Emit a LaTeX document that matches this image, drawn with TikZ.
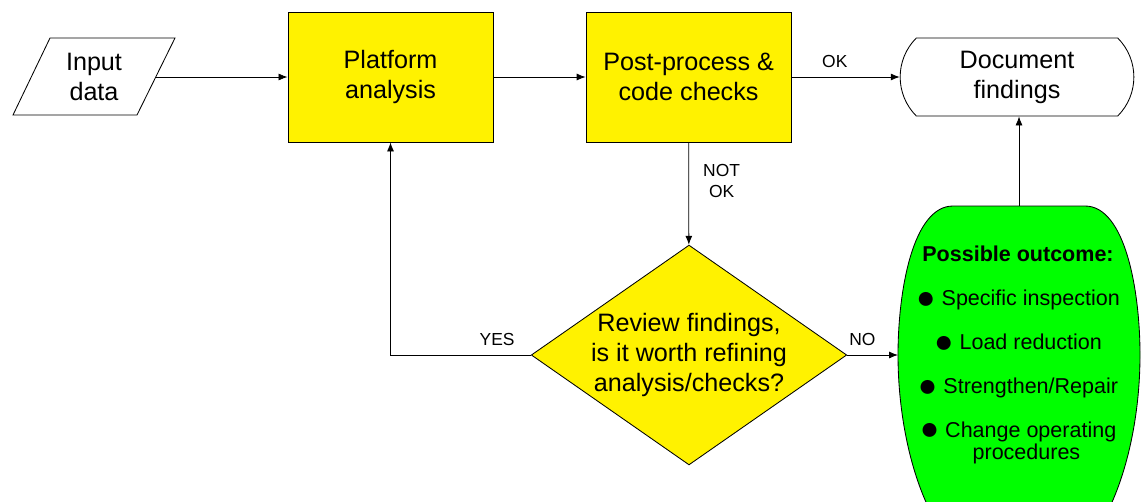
\documentclass[tikz,border=0pt]{standalone}
\usepackage{fontspec}
\setmainfont{Liberation Sans}
\usepackage{tikz}
\usetikzlibrary{arrows.meta,shapes.geometric,shapes.misc,positioning}

\newcommand{\flowfont}{\fontsize{17.9}{21.3}\selectfont}
\newcommand{\tagfont}{\fontsize{12.4}{14.9}\selectfont}
\newcommand{\outfont}{\fontsize{15.3}{15.6}\selectfont}
\newcommand{\dotmark}{\raisebox{-0.12em}{\scalebox{1.5}{●}}}

\tikzset{
    box/.style={draw, fill=yellow, minimum width=5.125cm, minimum height=3.25cm, align=center, font=\flowfont},
    decision/.style={draw, fill=yellow, shape=diamond, aspect=1.435, inner sep=0pt, minimum width=7.75cm, minimum height=5.4cm, align=center, font=\flowfont},
    terminal/.style={draw, fill=white, shape=rounded rectangle, rounded rectangle arc length=90, minimum width=6.075cm, minimum height=1.95cm, align=center, font=\flowfont},
    tag/.style={font=\tagfont, align=center, inner sep=1pt}
}

\begin{document}
\begin{tikzpicture}[x=0.025cm, y=-0.025cm, >={Latex[length=6.4pt,width=5pt]}, semithick]

    \clip (0,0) rectangle (1141,501);

    % outcome blob
    \filldraw[fill=green, draw=black] (953,206) -- (1085,206)
        .. controls (1125,206) and (1140,290) .. (1140,355)
        .. controls (1140,460) and (1100,580) .. (1019,580)
        .. controls (938,580) and (898,460) .. (898,355)
        .. controls (898,290) and (913,206) .. (953,206) -- cycle;

    % input data
    \node                   (input)                  at (94,77)        [align=center, font=\flowfont]  {Input\\data};
    \draw (13,115) -- (137,115) -- (175,38) -- (50,38) -- cycle;
    \coordinate             (input-out)              at (156,77);

    \node[box]              (platform)               at (390.5,77)     {Platform\\analysis};
    \node[box]              (post)                   [right of=platform, node distance=7.45cm]   {Post-process \&\\code checks};
    \node[terminal]         (doc)                    at (1017,77)      {Document\\findings};
    \node[decision]         (review)                 at (689,355)      {Review findings,\\is it worth refining\\analysis/checks?};

    \node[align=center, font=\outfont] (outcome)     at (1018,355)     {{\bfseries Possible outcome:}\\[15.6pt]
        \dotmark\ Specific inspection\\[15.6pt]
        \dotmark\ Load reduction\\[15.6pt]
        \dotmark\ Strengthen/Repair\\[15.6pt]
        \dotmark\ Change operating\\
        \hspace*{12pt}procedures};
    \coordinate             (outcome-top)            at (1019,206);
    \coordinate             (outcome-in)             at (898,355);

    \path[->]   (input-out)     edge                                                        (platform)
                (platform)      edge                                                        (post)
                (post)          edge    node[tag, above=5pt, pos=0.4]        {OK}           (doc)
                (post)          edge    node[tag, right=9pt, pos=0.38]       {NOT\\OK}      (review)
                (review)        edge    node[tag, above=5pt, pos=0.3]        {NO}           (outcome-in)
                (outcome-top)   edge                                                        (doc.south -| outcome-top);

    \draw[->]   (review) -| node[tag, above=5pt, pos=0.12] {YES} (platform);

\end{tikzpicture}
\end{document}
